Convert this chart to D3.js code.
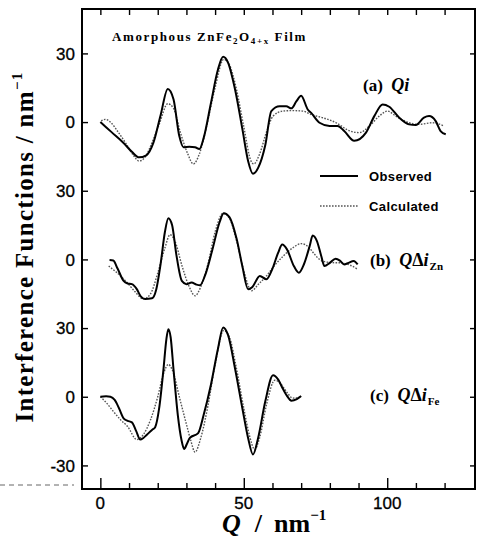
<!DOCTYPE html>
<html>
<head>
<meta charset="utf-8">
<script src="https://cdn.jsdelivr.net/npm/d3@7"></script>
<style>
  body { margin: 0; background: #fff; }
  svg { display: block; }
</style>
</head>
<body>
<svg id="chart"></svg>
<script>
// [Q, value] pairs, each panel in its own units
var obsA = [[0, 0], [4, -4.5], [8, -9], [11, -13], [13.5, -15.4], [16, -14.5], [18.5, -9], [21, 3], [23.5, 14.5],
  [25.5, 10], [27.5, -6], [29, -11], [31, -10.8], [33, -11], [34.5, -11.8], [36, -7], [38.5, 8], [41, 23],
  [42.8, 28.5], [44.5, 26], [47, 14], [49.5, -3], [51.5, -17], [53.2, -22.6], [55, -20], [57.5, -10], [59.6, 4.8],
  [62.5, 6.9], [64.8, 6.9], [66.6, 6.0], [68.3, 9], [70, 11.5], [72.3, 5.5], [73.5, 4], [76.4, -0.3], [79.9, -1.7],
  [82.7, -1.7], [85, -3.9], [88.5, -8.2], [92.6, -4.6], [95.5, 2.6], [98.4, 7.7], [100.7, 6.7], [104.2, 1.9],
  [107.6, -1], [110, -1.3], [112.8, 1.9], [114.6, 2.6], [116.9, 0.4], [118.6, -3.9], [120.4, -5.3]];
var calcA = [[0.3, 0.5], [1.7, 1.2], [3.5, 0], [6, -4], [9, -9.5], [11.5, -14.5], [13.5, -17], [15.5, -15.5],
  [18, -9], [20.5, -1], [23.5, 8], [25.5, 6], [28, -5], [30.5, -14], [32.4, -18.3], [34.5, -14], [37, -2],
  [40, 15], [43, 27.4], [45, 25], [47.5, 14], [50, -2], [52.5, -17], [53.5, -18.3], [55.5, -14], [58, -4],
  [60.2, 2.6], [63.6, 4.8], [67, 5], [70.6, 4.8], [73.5, 3.3], [77.5, 1.9], [82.2, -0.3], [87, -3.9], [90.3, -4.6],
  [93.8, -1.7], [97.2, 2.6], [100.1, 4.8], [103, 2.6], [107.6, -0.3], [111, -1], [115.7, -0.3], [119.8, -1.7]];

var obsB = [[3.2, -0.3], [4.5, -0.5], [6, -4], [8.1, -9.4], [9.5, -10.5], [11, -10.8], [12.7, -13], [14, -16],
  [15.6, -17.3], [18, -17], [19.5, -13], [21, -2], [22.5, 12], [23.7, 18], [25, 15], [26.5, 2], [28.4, -9.4],
  [30, -10.8], [31.8, -10.1], [33.5, -11], [34.7, -11.3], [36.5, -7], [39, 4], [41.5, 16], [43, 20.2], [45, 18.5],
  [47.5, 9], [49.5, -3], [51.5, -13], [53, -12], [55.6, -7.2], [57.9, -8.7], [60, -4], [62, 3], [63.4, 6.5],
  [65, 4.5], [67.5, -3], [69.2, -5.8], [71, -2], [73, 6], [74, 10.4], [75.5, 8], [77, 1.5], [78.1, -2.9],
  [80, -1.5], [82, 0.3], [83.5, -0.5], [85, -2.2], [86.5, -1.5], [88.3, -0.7], [89.7, -2.2]];
var calcB = [[2.9, -2.9], [5.5, -5.5], [9.3, -10.1], [12, -14], [15, -17.3], [17.5, -15], [20, -6], [22.5, 5],
  [24.3, 10.8], [26, 8], [28.5, -3], [31, -12], [33, -15.9], [35, -12], [37.5, -2], [40, 12], [42.8, 20.2],
  [45, 18], [47.5, 8], [50, -5], [52.7, -13.7], [55, -11], [57.9, -7.2], [60.5, -3], [63.7, 1.4], [67, 5],
  [70, 6.9], [72.5, 5.5], [74.5, 2.5], [76.4, 0], [79, -1.2], [81, -1.4], [84, -1.5], [87, -2.5], [89.7, -4.3]];

var obsC = [[0, 0], [2, 0.2], [3.5, 0], [5, -1.4], [6.5, -5], [8.1, -9.4], [9.5, -10.5], [11, -11.2], [12.5, -15],
  [13.9, -18.7], [15, -18], [16.2, -16.6], [18, -14.5], [19.1, -13.3], [20.5, -5], [22, 12], [23, 25], [23.7, 29.5],
  [24.5, 26], [25.5, 12], [27, -8], [28.3, -19], [29.2, -22.8], [30.2, -20.5], [31.2, -18], [34.1, -15.9], [36, -8],
  [38.5, 5], [41, 21], [42.8, 30.3], [44.5, 27], [47, 12], [49.5, -5], [51.5, -18], [53.2, -25.2], [55, -18],
  [57.5, -2], [60.2, 9.4], [62, 7.5], [63.3, 4.3], [65, 0.5], [66.6, -1.7], [68.5, -1], [70, 0.3]];
var calcC = [[0, 0], [2, -2.5], [4.6, -6.5], [7, -10], [9.5, -13], [12.7, -18.7], [15, -16.5], [17.5, -10],
  [20, 0], [22, 10], [23.7, 14.1], [25, 12], [27.8, -1.4], [30, -12], [31.5, -19], [33, -24.2], [35, -18],
  [37.5, -4], [40, 14], [43, 29], [45, 26], [47.5, 12], [50, -5], [52, -17], [53.8, -23], [55.5, -18], [58, -3],
  [60.8, 7.2], [63, 5.5], [65, 2], [67.1, -0.6], [70, 0]];

// vertical shift of each panel on the shared axis
var panelOffsets = [120, 60, 0];

var xTicks = d3.range(0, 121, 10);
var xLabels = [0, 50, 100];
var yTicks = [-30, 0, 30, 60, 90, 120, 150];
var yTickLabels = ["-30", "0", "30", "0", "30", "0", "30"];

var svgWidth = 483, svgHeight = 537;
var margin = { top: 9, right: 8, bottom: 48, left: 82 };
var width = svgWidth - margin.left - margin.right;
var height = svgHeight - margin.top - margin.bottom;

var svg = d3.select("#chart")
    .attr("width", svgWidth)
    .attr("height", svgHeight);

svg.append("rect").attr("width", svgWidth).attr("height", svgHeight).attr("fill", "#fff");

var g = svg.append("g")
    .attr("transform", "translate(" + margin.left + "," + margin.top + ")");

var x = d3.scaleLinear().domain([-6.4, 130.6]).range([0, width]);
var y = d3.scaleLinear().domain([-40.3, 169.4]).range([height, 0]);

var serif = "'Liberation Serif', 'Times New Roman', serif";
var sans = "'Liberation Sans', Arial, sans-serif";

// axes: ticks inward on all four sides
var bottom = g.append("g")
    .attr("transform", "translate(0," + height + ")")
    .call(d3.axisBottom(x).tickValues(xTicks).tickSize(-6).tickFormat(""));
bottom.selectAll(".tick line")
    .attr("y2", d => xLabels.indexOf(d) >= 0 ? -11 : -6);

g.append("g")
    .call(d3.axisTop(x).tickValues(xTicks).tickSize(-6).tickFormat(""));

g.append("g")
    .call(d3.axisLeft(y).tickValues(yTicks).tickSize(-6).tickFormat(""));

g.append("g")
    .attr("transform", "translate(" + width + ",0)")
    .call(d3.axisRight(y).tickValues(yTicks).tickSize(-5).tickFormat(""));

g.selectAll(".domain").remove();
g.selectAll(".tick line").attr("stroke", "#000").attr("stroke-width", 1.4);

g.append("rect")
    .attr("width", width)
    .attr("height", height)
    .attr("fill", "none")
    .attr("stroke", "#000")
    .attr("stroke-width", 2);

// tick labels
g.selectAll(".xlab")
    .data(xLabels)
  .enter().append("text")
    .attr("x", d => x(d))
    .attr("y", height + 20)
    .attr("text-anchor", "middle")
    .style("font-family", sans)
    .style("font-size", "17px")
    .style("stroke", "#000")
    .style("stroke-width", 0.3)
    .text(d => d);

g.selectAll(".ylab")
    .data(yTicks)
  .enter().append("text")
    .attr("x", -7)
    .attr("y", d => y(d))
    .attr("dy", "0.36em")
    .attr("text-anchor", "end")
    .style("font-family", sans)
    .style("font-size", "17px")
    .style("stroke", "#000")
    .style("stroke-width", 0.3)
    .text((d, i) => yTickLabels[i]);

// curves
var series = [
    { obs: obsA, calc: calcA, off: panelOffsets[0] },
    { obs: obsB, calc: calcB, off: panelOffsets[1] },
    { obs: obsC, calc: calcC, off: panelOffsets[2] }
];

series.forEach(s => {
    var line = d3.line()
        .x(d => x(d[0]))
        .y(d => y(d[1] + s.off))
        .curve(d3.curveMonotoneX);

    g.append("path")
        .datum(s.calc)
        .attr("fill", "none")
        .attr("stroke", "#555")
        .attr("stroke-width", 1.4)
        .attr("stroke-dasharray", "1.6,1.4")
        .attr("d", line);

    g.append("path")
        .datum(s.obs)
        .attr("fill", "none")
        .attr("stroke", "#000")
        .attr("stroke-width", 2)
        .attr("stroke-linejoin", "round")
        .attr("d", line);
});

// title
var title = svg.append("text")
    .attr("x", 112)
    .attr("y", 41)
    .style("font-family", serif)
    .style("font-weight", "bold")
    .style("font-size", "13px")
    .style("letter-spacing", "1.6px");
title.append("tspan").text("Amorphous ZnFe");
title.append("tspan").attr("dy", 3).style("font-size", "9px").text("2");
title.append("tspan").attr("dy", -3).text("O");
title.append("tspan").attr("dy", 3).style("font-size", "9px").text("4+x");
title.append("tspan").attr("dy", -3).text(" Film");

// panel labels
function panelLabel(px, py, tag, body, sub) {
    var t = svg.append("text")
        .attr("x", px)
        .attr("y", py)
        .style("font-family", serif)
        .style("font-weight", "bold")
        .style("font-size", "17px");
    t.append("tspan").text(tag + "\u00a0\u00a0");
    body.forEach(b => {
        t.append("tspan").style("font-style", b.italic ? "italic" : "normal")
            .style("font-size", "18px").text(b.s);
    });
    if (sub) {
        t.append("tspan").attr("dy", 4).attr("dx", 1).style("font-size", "11px").text(sub);
    }
}
panelLabel(363, 91, "(a)", [{ s: "Q", italic: true }, { s: "i", italic: true }], null);
panelLabel(370, 266, "(b)", [{ s: "Q", italic: true }, { s: "\u0394" }, { s: "i", italic: true }], "Zn");
panelLabel(370, 401, "(c)", [{ s: "Q", italic: true }, { s: "\u0394" }, { s: "i", italic: true }], "Fe");

// legend
var legend = [
    { label: "Observed", y: 176, dash: null, color: "#000", w: 2 },
    { label: "Calculated", y: 206, dash: "1.6,1.4", color: "#555", w: 1.4 }
];
legend.forEach(l => {
    svg.append("line")
        .attr("x1", 320).attr("x2", 358)
        .attr("y1", l.y).attr("y2", l.y)
        .attr("stroke", l.color)
        .attr("stroke-width", l.w)
        .attr("stroke-dasharray", l.dash);
    svg.append("text")
        .attr("x", 369)
        .attr("y", l.y + 5)
        .style("font-family", sans)
        .style("font-weight", "bold")
        .style("font-size", "13px")
        .style("letter-spacing", "0.4px")
        .text(l.label);
});

// axis titles
var ytitle = svg.append("text")
    .attr("transform", "translate(33,247) rotate(-90)")
    .attr("text-anchor", "middle")
    .style("font-family", serif)
    .style("font-weight", "bold")
    .style("font-size", "25px")
    .style("letter-spacing", "1.3px");
ytitle.append("tspan").text("Interference Functions / nm");
ytitle.append("tspan").attr("dy", -11).style("font-size", "15px").text("\u22121");

var xtitle = svg.append("text")
    .attr("x", 222)
    .attr("y", 532)
    .style("font-family", serif)
    .style("font-weight", "bold")
    .style("font-size", "26px");
xtitle.append("tspan").style("font-style", "italic").text("Q");
xtitle.append("tspan").attr("dx", 14).text("/");
xtitle.append("tspan").attr("dx", 12).text("nm");
xtitle.append("tspan").attr("dy", -12).style("font-size", "15px").text("\u22121");

// stray dashed rule left of the frame
svg.append("line")
    .attr("x1", 0).attr("x2", 74)
    .attr("y1", 485).attr("y2", 485)
    .attr("stroke", "#666")
    .attr("stroke-width", 1)
    .attr("stroke-dasharray", "5,4");
</script>
</body>
</html>
